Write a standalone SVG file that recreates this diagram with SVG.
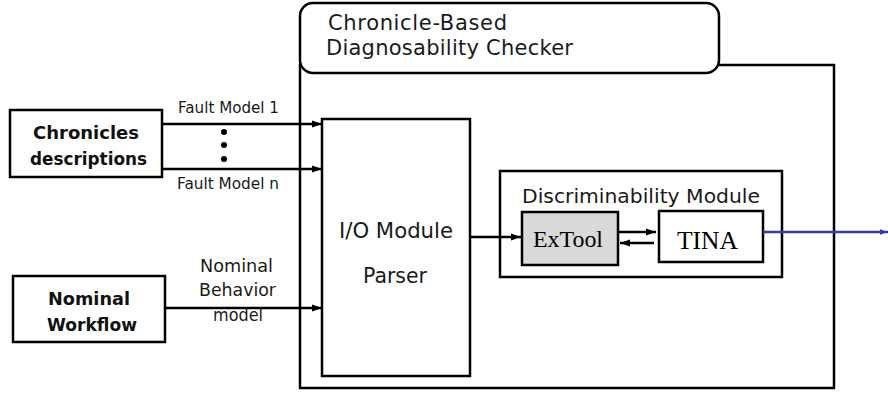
<svg xmlns="http://www.w3.org/2000/svg" width="888" height="398" viewBox="0 0 888 398">
<style>
.box{fill:#fff;stroke:#000;stroke-width:2.5}
.t{font-family:"DejaVu Sans",Verdana,sans-serif;fill:#1a1a1a}
.b{font-family:"DejaVu Sans",Verdana,sans-serif;font-weight:bold;fill:#111}
.s{font-family:"Liberation Serif","Times New Roman",serif;fill:#000}
.ln{stroke:#000;stroke-width:2.5;fill:none}
</style>
<defs>
<marker id="ah" markerUnits="userSpaceOnUse" markerWidth="10" markerHeight="10" viewBox="0 0 10 10" refX="10" refY="5" orient="auto">
<path d="M0,1.5 L10,5 L0,8.5 Z" fill="#000"/>
</marker>
<marker id="ahb" markerUnits="userSpaceOnUse" markerWidth="8" markerHeight="8" viewBox="0 0 10 10" refX="10" refY="5" orient="auto">
<path d="M0,1.5 L10,5 L0,8.5 Z" fill="#3a3aa0"/>
</marker>
</defs>

<g id="checker">
<rect class="box" x="300" y="65" width="534" height="323"/>
<rect class="box" x="300" y="3" width="419" height="70" rx="13" ry="13"/>
<text class="t" x="328" y="30" font-size="21" textLength="179" lengthAdjust="spacing">Chronicle-Based</text>
<text class="t" x="326" y="55" font-size="21" textLength="247" lengthAdjust="spacing">Diagnosability Checker</text>
</g>

<g id="chronicles">
<rect class="box" x="10" y="110" width="152" height="67"/>
<text class="b" x="33" y="139" font-size="17.5" textLength="106" lengthAdjust="spacingAndGlyphs">Chronicles</text>
<text class="b" x="30" y="165" font-size="17.5" textLength="117" lengthAdjust="spacingAndGlyphs">descriptions</text>
</g>

<g id="nominal">
<rect class="box" x="13" y="276" width="152" height="66"/>
<text class="b" x="48" y="305" font-size="17.5" textLength="82" lengthAdjust="spacingAndGlyphs">Nominal</text>
<text class="b" x="47" y="331" font-size="17.5" textLength="90" lengthAdjust="spacingAndGlyphs">Workflow</text>
</g>

<g id="io">
<rect class="box" x="322" y="119" width="148" height="257"/>
<text class="t" x="339" y="238" font-size="20.5" textLength="114" lengthAdjust="spacingAndGlyphs">I/O Module</text>
<text class="t" x="363" y="283" font-size="20.5" textLength="64" lengthAdjust="spacingAndGlyphs">Parser</text>
</g>

<g id="discriminability">
<rect class="box" x="500" y="171" width="282" height="106"/>
<text class="t" x="522" y="203" font-size="20" textLength="238" lengthAdjust="spacingAndGlyphs">Discriminability Module</text>
</g>

<g id="extool">
<rect x="522" y="212" width="96" height="53" fill="#d9d9d9" stroke="#000" stroke-width="2.5"/>
<text class="s" x="533" y="247" font-size="23" textLength="70" lengthAdjust="spacingAndGlyphs">ExTool</text>
</g>

<g id="tina">
<rect class="box" x="659" y="211" width="104" height="51"/>
<text class="s" x="677" y="249" font-size="25" textLength="61" lengthAdjust="spacingAndGlyphs">TINA</text>
</g>

<g id="connectors">
<line class="ln" x1="162" y1="124" x2="322" y2="124" marker-end="url(#ah)"/>
<line class="ln" x1="162" y1="169" x2="322" y2="169" marker-end="url(#ah)"/>
<circle cx="224" cy="132" r="3"/>
<circle cx="224" cy="145" r="3"/>
<circle cx="224" cy="159" r="3"/>
<text class="t" x="178" y="113" font-size="15.5" textLength="101" lengthAdjust="spacingAndGlyphs">Fault Model 1</text>
<text class="t" x="177" y="189" font-size="15.5" textLength="102" lengthAdjust="spacingAndGlyphs">Fault Model n</text>
<line class="ln" x1="166" y1="308" x2="322" y2="308" marker-end="url(#ah)"/>
<text class="t" x="200" y="272" font-size="17.5" textLength="73" lengthAdjust="spacingAndGlyphs">Nominal</text>
<text class="t" x="199" y="296" font-size="17.5" textLength="77" lengthAdjust="spacingAndGlyphs">Behavior</text>
<text class="t" x="213" y="321" font-size="17.5" textLength="50" lengthAdjust="spacingAndGlyphs">model</text>
<line class="ln" x1="470" y1="237" x2="521" y2="237" marker-end="url(#ah)"/>
<line class="ln" x1="619" y1="232" x2="656" y2="232" marker-end="url(#ah)"/>
<line class="ln" x1="654" y1="243" x2="620" y2="243" marker-end="url(#ah)"/>
<line x1="763" y1="232" x2="888" y2="232" stroke="#3a3aa0" stroke-width="2.5" marker-end="url(#ahb)"/>
</g>
</svg>
